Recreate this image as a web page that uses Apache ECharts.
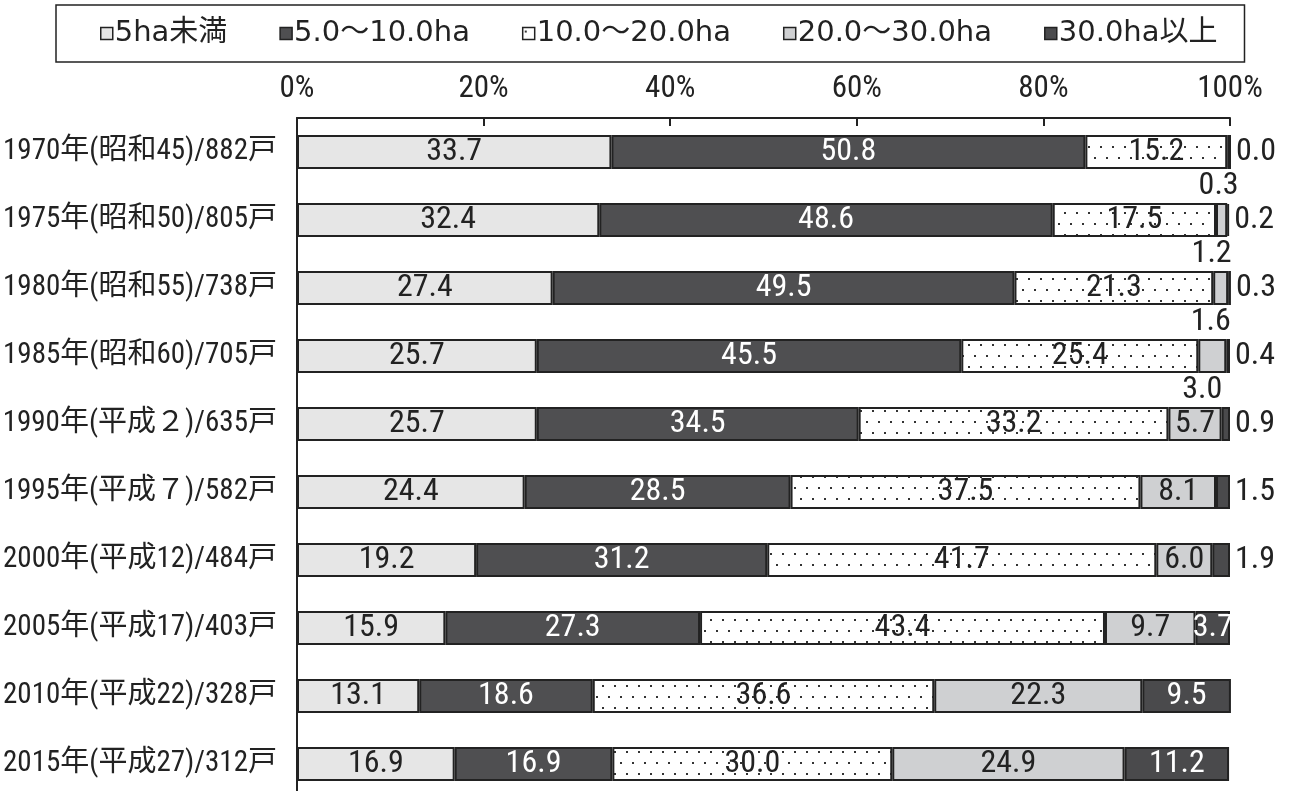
<!DOCTYPE html>
<html>
<head>
<meta charset="utf-8">
<script src="https://cdn.jsdelivr.net/npm/echarts@6/dist/echarts.min.js"></script>
<style>
  html, body { margin: 0; padding: 0; background: #fff; }
  #chart { width: 1291px; height: 791px; }
</style>
</head>
<body>
<div id="chart"></div>
<script>
// Farm households by cultivated area (share, %)
const categories = [
  '1970年(昭和45)/882戸', '1975年(昭和50)/805戸', '1980年(昭和55)/738戸',
  '1985年(昭和60)/705戸', '1990年(平成２)/635戸', '1995年(平成７)/582戸',
  '2000年(平成12)/484戸', '2005年(平成17)/403戸', '2010年(平成22)/328戸',
  '2015年(平成27)/312戸'
];
const seriesNames = ['5ha未満', '5.0～10.0ha', '10.0～20.0ha', '20.0～30.0ha', '30.0ha以上'];
const under5ha   = [33.7, 32.4, 27.4, 25.7, 25.7, 24.4, 19.2, 15.9, 13.1, 16.9];
const ha5to10    = [50.8, 48.6, 49.5, 45.5, 34.5, 28.5, 31.2, 27.3, 18.6, 16.9];
const ha10to20   = [15.2, 17.5, 21.3, 25.4, 33.2, 37.5, 41.7, 43.4, 36.6, 30.0];
const ha20to30   = [0.3, 1.2, 1.6, 3.0, 5.7, 8.1, 6.0, 9.7, 22.3, 24.9];
const over30ha   = [0.0, 0.2, 0.3, 0.4, 0.9, 1.5, 1.9, 3.7, 9.5, 11.2];
const axisMin = 0, axisMax = 100, axisStep = 20;

const NARROW = '"Roboto Condensed", "Noto Sans CJK JP", sans-serif';
const GOTHIC = '"DejaVu Sans", "Noto Sans CJK JP", sans-serif';

// white fill sprinkled with small dots
function dotPattern() {
  const c = document.createElement('canvas');
  c.width = 12; c.height = 22;
  const g = c.getContext('2d');
  g.fillStyle = '#ffffff';
  g.fillRect(0, 0, 12, 22);
  g.fillStyle = '#333333';
  g.fillRect(2, 3, 2, 2);
  g.fillRect(8, 14, 2, 2);
  return c;
}

const fills = ['#e6e6e6', '#4f4f51', { image: dotPattern(), repeat: 'repeat' }, '#cfd0d2', '#4a4a4c'];
const labelColors = ['#222', '#fff', '#222', '#222', '#fff'];
const values = [under5ha, ha5to10, ha10to20, ha20to30, over30ha];

function labelFor(seriesIdx, v) {
  if (seriesIdx === 3 && v <= 3.0) {
    return { position: 'bottom', distance: 1, offset: [-10, 0], color: '#222' };
  }
  if (seriesIdx === 4 && v < 3) {
    return { position: 'right', distance: 5, color: '#222' };
  }
  return { position: 'inside', color: labelColors[seriesIdx] };
}

const series = values.map((arr, s) => ({
  name: seriesNames[s],
  type: 'bar',
  stack: 'share',
  barWidth: 34,
  itemStyle: { color: fills[s], borderColor: '#222', borderWidth: 2 },
  label: {
    show: true,
    fontFamily: NARROW,
    fontSize: 32,
    textBorderWidth: 0,
    formatter: p => Number(p.value).toFixed(1)
  },
  emphasis: { disabled: true },
  data: arr.map(v => ({ value: v, label: labelFor(s, v) }))
}));

const chart = echarts.init(document.getElementById('chart'), null, { renderer: 'canvas' });
chart.setOption({
  animation: false,
  backgroundColor: '#fff',
  textStyle: { fontFamily: NARROW },
  legend: {
    data: seriesNames,
    left: 56,
    top: 5,
    padding: [14, 27, 14, 44],
    borderColor: '#222',
    borderWidth: 1.5,
    itemWidth: 12,
    itemHeight: 12,
    itemGap: 52,
    icon: 'rect',
    itemStyle: { borderWidth: 1.5, borderColor: '#222' },
    textStyle: { fontFamily: GOTHIC, fontSize: 29, color: '#222', padding: [0, 0, 0, -3] }
  },
  grid: { left: 297, right: 61, top: 118, height: 680, outerBoundsMode: 'none' },
  xAxis: {
    type: 'value',
    position: 'top',
    min: axisMin,
    max: axisMax,
    interval: axisStep,
    axisLine: { show: true, lineStyle: { color: '#222', width: 2 } },
    axisTick: { show: true, inside: true, length: 8, lineStyle: { color: '#222', width: 2 } },
    splitLine: { show: false },
    axisLabel: { formatter: '{value}%', fontFamily: NARROW, fontSize: 31, color: '#222', margin: 13 }
  },
  yAxis: {
    type: 'category',
    inverse: true,
    data: categories,
    axisLine: { show: true, lineStyle: { color: '#222', width: 2 } },
    axisTick: { show: false },
    splitLine: { show: false },
    axisLabel: { fontFamily: NARROW, fontSize: 29, color: '#222', margin: 20 }
  },
  series: series
});
</script>
</body>
</html>
